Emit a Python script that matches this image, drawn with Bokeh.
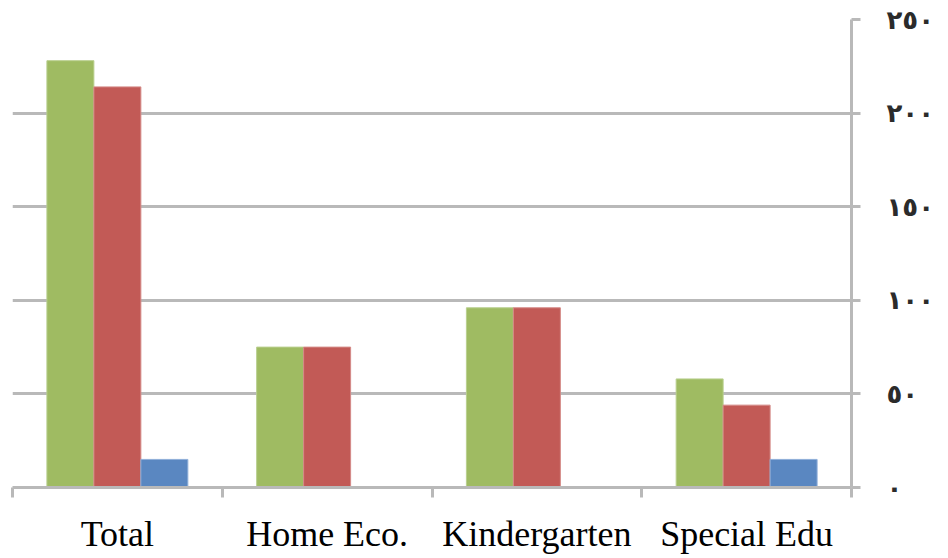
import numpy as np
from bokeh.plotting import figure
from bokeh.models import (ColumnDataSource, Range1d, LinearAxis, FixedTicker)
from bokeh.transform import dodge
from bokeh.embed import file_html
from bokeh.resources import INLINE

# ---- data ----
categories = ["Total", "Home Eco.", "Kindergarten", "Special Edu"]
series_green = [228, 75, 96, 58]
series_red = [214, 75, 96, 44]
series_blue = [15, 0, 0, 15]
y_ticks = [0, 50, 100, 150, 200, 250]
y_tick_labels = ["٠", "٥٠", "١٠٠", "١٥٠", "٢٠٠", "٢٥٠"]

centers = list(np.arange(len(categories)) + 0.5)
source = ColumnDataSource(dict(x=centers, green=series_green,
                               red=series_red, blue=series_blue))

GRID = "#b9b9b9"
BAR_W = 0.224

p = figure(width=944, height=556, output_backend="svg", toolbar_location=None,
           x_range=Range1d(0, len(categories)), y_range=Range1d(0, 250),
           y_axis_location=None, min_border_left=12, min_border_top=19,
           min_border_right=93, min_border_bottom=68)
p.outline_line_color = None
p.background_fill_color = "white"
p.border_fill_color = "white"

p.vbar(x=dodge("x", -BAR_W, range=p.x_range), top="green", width=BAR_W,
       source=source, fill_color="#9fbb62", line_color="#b9cf8e", line_width=1)
p.vbar(x="x", top="red", width=BAR_W, source=source,
       fill_color="#c25a56", line_color="#d48a87", line_width=1)
p.vbar(x=dodge("x", BAR_W, range=p.x_range), top="blue", width=BAR_W,
       source=source, fill_color="#5a87c1", line_color="#8eaed8", line_width=1)

# x axis: ticks at category boundaries, labels at centres
xax = p.xaxis[0]
xax.ticker = FixedTicker(ticks=centers, minor_ticks=list(range(len(categories) + 1)))
xax.major_label_overrides = {c: n for c, n in zip(centers, categories)}
xax.major_tick_out = 0
xax.major_tick_in = 0
xax.minor_tick_out = 10
xax.minor_tick_in = 0
xax.minor_tick_line_color = GRID
xax.minor_tick_line_width = 3
xax.axis_line_color = GRID
xax.axis_line_width = 3
xax.major_label_text_font = "Liberation Serif"
xax.major_label_text_font_size = "36px"
xax.major_label_text_color = "black"
xax.major_label_standoff = 16
p.xgrid.grid_line_color = None

# right y axis with Arabic-Indic digits
yax = LinearAxis(ticker=FixedTicker(ticks=y_ticks),
                 major_label_overrides={t: l for t, l in zip(y_ticks, y_tick_labels)})
yax.axis_line_color = GRID
yax.axis_line_width = 3
yax.major_tick_line_color = GRID
yax.major_tick_line_width = 3
yax.major_tick_out = 9
yax.major_tick_in = 0
yax.minor_tick_line_color = None
yax.major_label_text_font = "DejaVu Sans"
yax.major_label_text_font_style = "bold"
yax.major_label_text_font_size = "26px"
yax.major_label_text_color = "#2b2b2b"
yax.major_label_standoff = 26
p.add_layout(yax, "right")

p.ygrid.ticker = FixedTicker(ticks=y_ticks)
p.ygrid.grid_line_color = GRID
p.ygrid.grid_line_width = 3

open("out.html", "w").write(file_html(p, INLINE))
